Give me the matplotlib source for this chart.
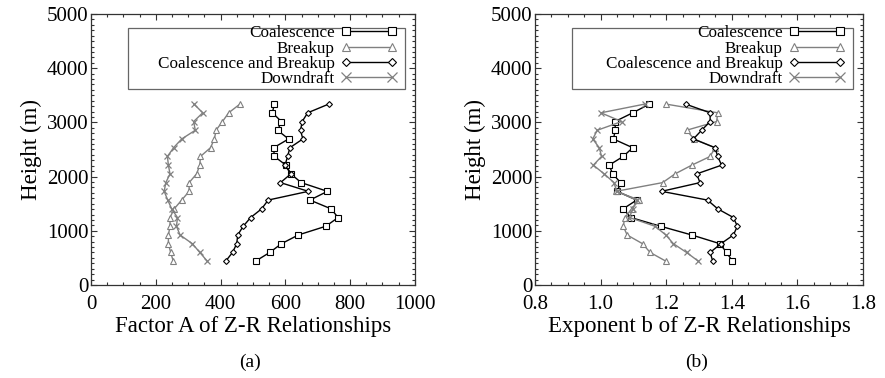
import matplotlib
matplotlib.use("Agg")
import matplotlib.pyplot as plt
from matplotlib.patches import Rectangle
from matplotlib.ticker import MultipleLocator

plt.rcParams['font.family'] = ['Liberation Serif', 'DejaVu Serif']

# sounding levels (m), bottom to top
heights = [440, 601, 762, 923, 1084, 1245, 1406, 1567, 1728, 1889,
           2050, 2211, 2372, 2533, 2694, 2855, 3016, 3177, 3338]

# factor A
a_coal = [508, 552, 588, 640, 725, 763, 741, 676, 730, 649,
          617, 602, 566, 564, 610, 576, 588, 560, 566]
a_break = [254, 246, 239, 239, 244, 244, 257, 280, 303, 303,
           326, 336, 338, 369, 381, 386, 406, 425, 460]
a_both = [416, 437, 450, 453, 470, 493, 527, 547, 671, 585,
          617, 599, 607, 614, 654, 647, 652, 669, 734]
a_down = [359, 336, 313, 275, 264, 267, 249, 237, 226, 231,
          244, 239, 236, 255, 280, 322, 317, 345, 318]

# exponent b
b_coal = [1.402, 1.384, 1.364, 1.278, 1.183, 1.092, 1.069, 1.110, 1.051, 1.061,
          1.037, 1.026, 1.069, 1.098, 1.039, 1.045, 1.044, 1.098, 1.149]
b_break = [1.199, 1.151, 1.128, 1.081, 1.069, 1.074, 1.095, 1.118, 1.047, 1.189,
           1.227, 1.278, 1.334, 1.349, 1.285, 1.262, 1.354, 1.357, 1.199]
b_both = [1.342, 1.334, 1.367, 1.405, 1.417, 1.405, 1.357, 1.326, 1.186, 1.303,
          1.293, 1.369, 1.357, 1.349, 1.283, 1.308, 1.334, 1.334, 1.259]
b_down = [1.298, 1.262, 1.222, 1.199, 1.166, 1.088, 1.098, 1.110, 1.049, 1.041,
          1.011, 0.978, 1.003, 0.996, 0.976, 0.990, 1.064, 1.001, 1.135]

labels = ['Coalescence', 'Breakup', 'Coalescence and Breakup', 'Downdraft']
styles = [
    dict(color='black', marker='s', ms=4, mfc='white', lw=1.0, mew=0.8),
    dict(color='#808080', marker='^', ms=4, mfc='white', lw=1.0, mew=0.8),
    dict(color='black', marker='D', ms=3, mfc='white', lw=1.0, mew=0.8),
    dict(color='#808080', marker='x', ms=5, lw=1.0, mew=0.9),
]

fig = plt.figure(figsize=(8.85, 3.78), dpi=100)
ax1 = fig.add_axes([0.1028, 0.246, 0.366, 0.717])
ax2 = fig.add_axes([0.6045, 0.246, 0.3706, 0.717])


def style_axes(ax, series, xlim, xmajor, xminor, xlabel, fmt):
    for vals, lab, st in zip(series, labels, styles):
        ax.plot(vals, heights, label=lab, **st)
    ax.set_xlim(*xlim)
    ax.set_ylim(0, 5000)
    ax.xaxis.set_major_locator(MultipleLocator(xmajor))
    ax.xaxis.set_minor_locator(MultipleLocator(xminor))
    ax.yaxis.set_major_locator(MultipleLocator(1000))
    ax.yaxis.set_minor_locator(MultipleLocator(100))
    ax.xaxis.set_major_formatter(fmt)
    ax.tick_params(which='both', direction='in', top=True, right=True,
                   labelsize=15, pad=2, width=0.8, colors='#333333',
                   labelcolor='black')
    ax.tick_params(which='major', length=4)
    ax.tick_params(which='minor', length=2.5)
    ax.tick_params(axis='x', pad=7.5)
    for sp in ax.spines.values():
        sp.set_linewidth(0.9)
        sp.set_color('#333333')
    ax.set_xlabel(xlabel, fontsize=16.5, labelpad=1)
    ax.set_ylabel('Height (m)', fontsize=16.5, labelpad=3)

    # legend box is wider than its entries, so the frame is drawn separately
    ax.add_patch(Rectangle((0.114, 0.723), 0.855, 0.225, transform=ax.transAxes,
                           facecolor='white', edgecolor='#666666', lw=0.9,
                           zorder=4))
    leg = ax.legend(loc='upper right', bbox_to_anchor=(0.945, 0.958),
                    markerfirst=False, fontsize=12.3, numpoints=2,
                    handlelength=3.3, handletextpad=0.35, labelspacing=-0.05,
                    borderpad=0.0, borderaxespad=0, frameon=False,
                    markerscale=1.4, alignment='right')
    leg.set_zorder(5)
    for t in leg.get_texts():
        t.set_ha('right')


style_axes(ax1, [a_coal, a_break, a_both, a_down], (0, 1000), 200, 50,
           'Factor A of Z-R Relationships', '{x:.0f}')
style_axes(ax2, [b_coal, b_break, b_both, b_down], (0.8, 1.8), 0.2, 0.05,
           'Exponent b of Z-R Relationships', '{x:.1f}')

fig.text(0.283, 0.042, '(a)', ha='center', va='center', fontsize=14)
fig.text(0.787, 0.042, '(b)', ha='center', va='center', fontsize=14)

fig.savefig('out.png', dpi=100)
